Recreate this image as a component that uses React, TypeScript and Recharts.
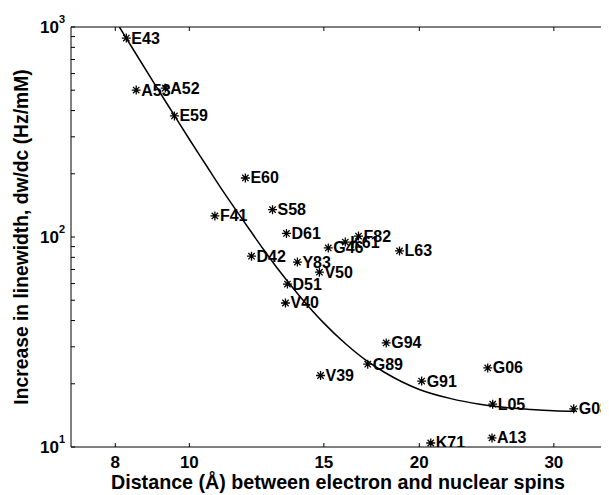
import { ScatterChart, Scatter, XAxis, YAxis } from 'recharts'

const residues = ['E43', 'A53', 'A52', 'E59', 'E60', 'F41', 'S58', 'D61', 'D42', 'Y83', 'V50', 'D51', 'V40',
  'G46', 'K61', 'F82', 'L63', 'G94', 'G89', 'V39', 'G91', 'G06', 'L05', 'G08', 'K71', 'A13']
const distance = [8.27, 8.52, 9.3, 9.56, 11.84, 10.8, 12.85, 13.4, 12.06, 13.85, 14.8, 13.44, 13.36,
  15.2, 16.0, 16.65, 18.84, 18.1, 17.12, 14.85, 20.14, 24.58, 24.95, 31.85, 20.7, 24.9]
const linewidth = [886, 501, 512, 377, 191, 126, 135, 104, 81, 76, 68, 59.7, 48.5,
  88.7, 94.6, 101, 85.8, 31.3, 24.8, 21.9, 20.6, 23.8, 16.0, 15.2, 10.45, 11.05]

// fitted curve
const fitDistance = [8.1, 8.5, 9, 9.5, 10, 10.5, 11, 11.5, 12, 12.5, 13, 13.5, 14, 15, 16, 17, 18, 19, 20, 22, 24, 26, 28, 30, 32]
const fitLinewidth = [999, 752, 538, 393, 292, 222, 171, 135, 108, 87.4, 72, 60.4, 51.4, 38.9, 31.1, 26, 22.7, 20.4, 18.8, 17, 16, 15.4, 15.1, 14.9, 14.8]

const xTicks = [8, 10, 15, 20, 30]
const yTicks = [10, 20, 30, 40, 50, 60, 70, 80, 90, 100, 200, 300, 400, 500, 600, 700, 800, 900, 1000]

const points = residues.map((name, i) => ({ name, x: distance[i], y: linewidth[i] }))
const fit = fitDistance.map((x, i) => ({ x, y: fitLinewidth[i] }))

const FONT = '"Liberation Sans", Arial, sans-serif'
const TICK_LEN = 4

function BottomTick({ x, y, payload }: any) {
  return (
    <g>
      <line x1={x} x2={x} y1={y} y2={y - TICK_LEN} stroke="#000" />
      <text x={x} y={y + 15} textAnchor="middle" dominantBaseline="central"
        fontFamily={FONT} fontWeight="bold" fontSize={17} fill="#000">
        {payload.value}
      </text>
    </g>
  )
}

function TopTick({ x, y }: any) {
  return <line x1={x} x2={x} y1={y} y2={y + TICK_LEN} stroke="#000" />
}

function LeftTick({ x, y, payload }: any) {
  const exp = Math.log10(payload.value)
  const major = Math.abs(exp - Math.round(exp)) < 1e-6
  return (
    <g>
      <line x1={x} x2={x + TICK_LEN} y1={y} y2={y} stroke="#000" />
      {major && (
        <text x={x - 6} y={y + 6} textAnchor="end" fontFamily={FONT} fontWeight="bold" fontSize={17} fill="#000">
          <tspan>10</tspan>
          <tspan dy={-10} fontSize={11}>{Math.round(exp)}</tspan>
        </text>
      )}
    </g>
  )
}

function RightTick({ x, y }: any) {
  return <line x1={x} x2={x - TICK_LEN} y1={y} y2={y} stroke="#000" />
}

function XTitle({ viewBox }: any) {
  return (
    <text x={viewBox.x + viewBox.width / 2} y={viewBox.y + 35} textAnchor="middle" dominantBaseline="central"
      fontFamily={FONT} fontWeight="bold" fontSize={19.7} fill="#000">
      Distance (Å) between electron and nuclear spins
    </text>
  )
}

function YTitle({ viewBox }: any) {
  const cx = viewBox.x + 13
  const cy = viewBox.y + viewBox.height / 2
  return (
    <text x={cx} y={cy} transform={`rotate(-90 ${cx} ${cy})`} textAnchor="middle" dominantBaseline="central"
      fontFamily={FONT} fontWeight="bold" fontSize={19.3} fill="#000">
      Increase in linewidth, dw/dc (Hz/mM)
    </text>
  )
}

function Star(props: any) {
  const { cx, cy } = props
  const name = props.payload?.name ?? props.name
  const r = 4.5
  const d = r * 0.707
  return (
    <g>
      <path
        d={`M${cx - r},${cy}h${2 * r}M${cx},${cy - r}v${2 * r}M${cx - d},${cy - d}l${2 * d},${2 * d}M${cx - d},${cy + d}l${2 * d},${-2 * d}`}
        stroke="#000" strokeWidth={1.3} fill="none"
      />
      <text x={cx + 5} y={cy} dominantBaseline="central" fontFamily={FONT} fontWeight="bold" fontSize={16} fill="#000">
        {name}
      </text>
    </g>
  )
}

export default function App() {
  return (
    <ScatterChart width={601} height={487} margin={{ top: 0, right: 0, bottom: 0, left: 0 }}
      style={{ background: '#fff' }}>
      <XAxis xAxisId="bottom" type="number" dataKey="x" scale="log" domain={[7, 35]} allowDataOverflow
        ticks={xTicks} interval={0} tickSize={0} tickMargin={0} height={48}
        axisLine={{ stroke: '#000' }} tick={<BottomTick />} label={<XTitle />} />
      <XAxis xAxisId="top" orientation="top" type="number" dataKey="x" scale="log" domain={[7, 35]} allowDataOverflow
        ticks={xTicks} interval={0} tickSize={0} tickMargin={0} height={19}
        axisLine={{ stroke: '#000' }} tick={<TopTick />} />
      <YAxis yAxisId="left" type="number" dataKey="y" scale="log" domain={[10, 1000]} allowDataOverflow
        ticks={yTicks} interval={0} tickSize={0} tickMargin={0} width={63}
        axisLine={{ stroke: '#000' }} tick={<LeftTick />} label={<YTitle />} />
      <YAxis yAxisId="right" orientation="right" type="number" dataKey="y" scale="log" domain={[10, 1000]} allowDataOverflow
        ticks={yTicks} interval={0} tickSize={0} tickMargin={0} width={4}
        axisLine={{ stroke: '#000' }} tick={<RightTick />} />
      <Scatter data={fit} xAxisId="top" yAxisId="right" line={{ stroke: '#000', strokeWidth: 1.5 }}
        lineType="joint" lineJointType="monotoneX" shape={() => <g />} isAnimationActive={false} />
      <Scatter data={points} xAxisId="bottom" yAxisId="left" shape={<Star />} isAnimationActive={false} />
    </ScatterChart>
  )
}
